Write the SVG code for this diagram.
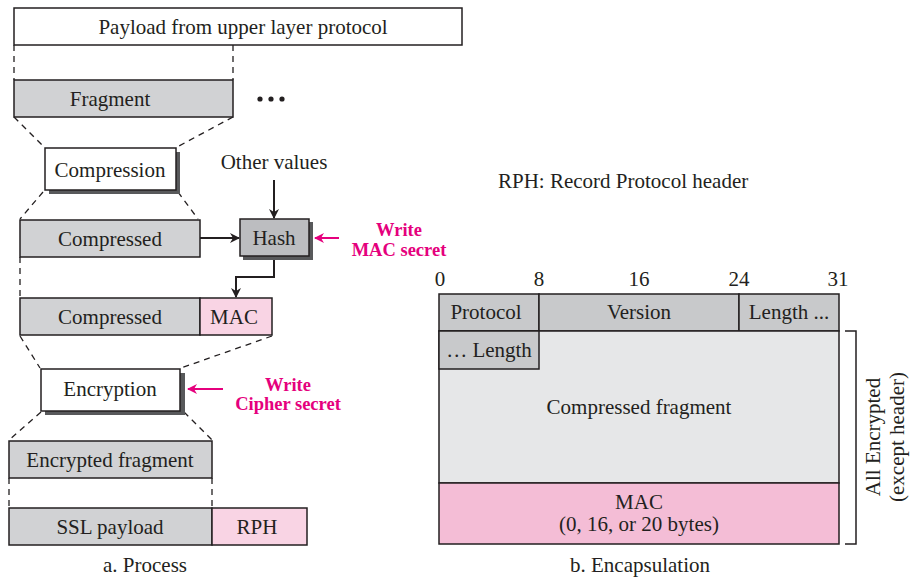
<svg xmlns="http://www.w3.org/2000/svg" width="911" height="578" viewBox="0 0 911 578">
<style>
text{font-family:"Liberation Serif","Times New Roman",serif;font-size:21px;fill:#231f20}
.c{text-anchor:middle}
.b{stroke:#231f20;stroke-width:1.5}
.g{fill:#d1d2d4}
.dg{fill:#bcbdc0}
.w{fill:#fff}
.pk{fill:#f9d4e4}
.dash{stroke:#231f20;stroke-width:1.3;stroke-dasharray:6,5;fill:none}
.ln{stroke:#231f20;stroke-width:2;fill:none}
.pl{stroke:#e5007d;stroke-width:2;fill:none}
.pt{fill:#e5007d;font-weight:bold;font-size:18.5px}
.sh{fill:#58595b}
</style>
<defs>
<marker id="ah" markerWidth="10" markerHeight="10" refX="9" refY="5" orient="auto" markerUnits="userSpaceOnUse"><path d="M0,0 L10,5 L0,10 L3,5 Z" fill="#231f20"/></marker>
<marker id="ahp" markerWidth="10" markerHeight="10" refX="9" refY="5" orient="auto" markerUnits="userSpaceOnUse"><path d="M0,0 L10,5 L0,10 L3,5 Z" fill="#e5007d"/></marker>
</defs>
<g id="connectors">
<line class="dash" x1="14" y1="45" x2="14" y2="80"/>
<line class="dash" x1="233" y1="45" x2="233" y2="80"/>
<line class="dash" x1="14" y1="117" x2="44" y2="147"/>
<line class="dash" x1="233" y1="117" x2="177" y2="147"/>
<line class="dash" x1="43" y1="192" x2="20" y2="219"/>
<line class="dash" x1="178" y1="192" x2="198" y2="219"/>
<line class="dash" x1="20" y1="257" x2="20" y2="298"/>
<line class="dash" x1="20" y1="336" x2="40" y2="368"/>
<line class="dash" x1="272" y1="336" x2="181" y2="368"/>
<line class="dash" x1="41" y1="412" x2="9" y2="440"/>
<line class="dash" x1="184" y1="412" x2="212" y2="440"/>
<line class="dash" x1="9" y1="478" x2="9" y2="508"/>
<line class="dash" x1="212" y1="478" x2="212" y2="508"/>
<line class="ln" x1="200" y1="238" x2="239" y2="238" marker-end="url(#ah)"/>
<line class="ln" x1="274" y1="180" x2="274" y2="218" marker-end="url(#ah)"/>
<polyline class="ln" points="274,257 274,277 236,277 236,297" marker-end="url(#ah)"/>
<line class="pl" x1="339" y1="238" x2="315" y2="238" marker-end="url(#ahp)"/>
<line class="pl" x1="223" y1="389" x2="188" y2="389" marker-end="url(#ahp)"/>
<polyline fill="none" stroke="#231f20" stroke-width="1.5" points="845,331 856,331 856,544 845,544"/>
</g>
<g id="payload">
<rect class="w b" x="14" y="8" width="448" height="37"/>
<text class="c" x="243" y="34">Payload from upper layer protocol</text>
</g>
<g id="fragment">
<rect class="g b" x="14" y="80" width="219" height="37"/>
<text class="c" x="110" y="106">Fragment</text>
</g>
<g id="dots">
<circle cx="260" cy="99" r="2.6" fill="#231f20"/>
<circle cx="271" cy="99" r="2.6" fill="#231f20"/>
<circle cx="282" cy="99" r="2.6" fill="#231f20"/>
</g>
<g id="compression">
<rect class="sh" x="49" y="152" width="131" height="42"/>
<rect class="w b" x="45" y="148" width="131" height="42"/>
<text class="c" x="110" y="177">Compression</text>
</g>
<g id="other-values">
<text class="c" x="274" y="169">Other values</text>
</g>
<g id="compressed1">
<rect class="g b" x="20" y="220" width="180" height="37"/>
<text class="c" x="110" y="246">Compressed</text>
</g>
<g id="hash">
<rect class="sh" x="243" y="222" width="70" height="38"/>
<rect class="dg b" x="240" y="219" width="69" height="37"/>
<text class="c" x="274" y="245">Hash</text>
</g>
<g id="mac-secret">
<text class="pt c" x="399" y="236">Write</text>
<text class="pt c" x="399" y="256">MAC secret</text>
</g>
<g id="compressed-mac">
<rect class="g b" x="20" y="298" width="180" height="37"/>
<rect class="pk b" x="200" y="298" width="72" height="37"/>
<text class="c" x="110" y="324">Compressed</text>
<text class="c" x="234" y="324">MAC</text>
</g>
<g id="encryption">
<rect class="sh" x="45" y="373" width="140" height="42"/>
<rect class="w b" x="41" y="369" width="139" height="42"/>
<text class="c" x="110" y="396">Encryption</text>
</g>
<g id="cipher-secret">
<text class="pt c" x="288" y="391">Write</text>
<text class="pt c" x="288" y="410">Cipher secret</text>
</g>
<g id="encrypted-fragment">
<rect class="g b" x="9" y="441" width="203" height="37"/>
<text class="c" x="110" y="467">Encrypted fragment</text>
</g>
<g id="ssl-payload">
<rect class="g b" x="9" y="508" width="203" height="37"/>
<rect class="pk b" x="212" y="508" width="95" height="37"/>
<text class="c" x="110" y="534">SSL payload</text>
<text class="c" x="257" y="534">RPH</text>
</g>
<text class="c" x="145" y="572">a. Process</text>
<text x="498" y="188">RPH: Record Protocol header</text>
<g id="bit-numbers">
<text class="c" x="440" y="286">0</text>
<text class="c" x="539" y="286">8</text>
<text class="c" x="639" y="286">16</text>
<text class="c" x="739" y="286">24</text>
<text class="c" x="838" y="286">31</text>
</g>
<g id="record">
<rect class="b" fill="#c8c9cb" x="439" y="294" width="100" height="37"/>
<rect class="b" fill="#c8c9cb" x="539" y="294" width="200" height="37"/>
<rect class="b" fill="#c8c9cb" x="739" y="294" width="100" height="37"/>
<text class="c" x="486" y="319">Protocol</text>
<text class="c" x="639" y="319">Version</text>
<text class="c" x="789" y="319">Length ...</text>
<rect class="b" fill="#e6e7e8" x="439" y="331" width="400" height="152"/>
<rect class="b" fill="#c8c9cb" x="439" y="331" width="100" height="38"/>
<text class="c" x="489" y="357">… Length</text>
<text class="c" x="639" y="414">Compressed fragment</text>
<rect class="b" fill="#f4bdd6" x="439" y="483" width="400" height="61"/>
<text class="c" x="639" y="509">MAC</text>
<text class="c" x="639" y="531">(0, 16, or 20 bytes)</text>
</g>
<g id="bracket-label">
<text class="c" transform="translate(880,437) rotate(-90)">All Encrypted</text>
<text class="c" transform="translate(904,437) rotate(-90)">(except header)</text>
</g>
<text class="c" x="640" y="572">b. Encapsulation</text>
</svg>
